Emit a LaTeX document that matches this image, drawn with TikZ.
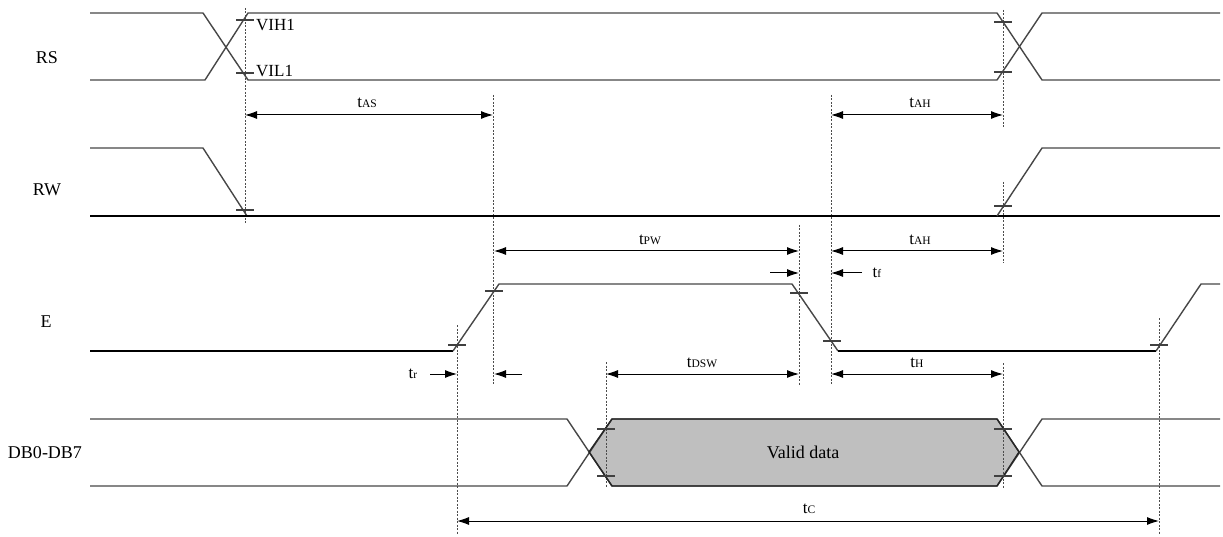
\documentclass[tikz,border=0pt]{standalone}
\usepackage{fontspec}
\setmainfont{Liberation Serif}
\usetikzlibrary{arrows.meta}
\newcommand\tsub[1]{t{\fontsize{11.5}{12}\selectfont #1}}
\begin{document}
\begin{tikzpicture}[x=1pt,y=-1pt,
  sig/.style={draw=black!72,line width=1.4pt,line join=round},
  sigk/.style={draw=black,line width=1.1pt},
  guide/.style={draw=black!70,line width=0.9pt,dash pattern=on 2pt off 1.5pt},
  tickm/.style={draw=black!75,line width=1.2pt},
  dimln/.style={draw=black,line width=1pt,{Latex[length=12pt,width=8pt]}-{Latex[length=12pt,width=8pt]}},
  onearr/.style={draw=black,line width=1pt,-{Latex[length=12pt,width=8pt]}},
  lbl/.style={font=\fontsize{18}{20}\selectfont,inner sep=0pt},
  tl/.style={font=\fontsize{17}{19}\selectfont,inner sep=0pt},
  valid/.style={fill=black!25,draw=none}]
\useasboundingbox (0,0) rectangle (1223,537);

% signal names
\node[lbl] (nRS) at (47,58) {RS};
\node[lbl] (nRW) at (47,190) {RW};
\node[lbl] (nE) at (46,322) {E};
\node[lbl] (nDB) at (45,453) {DB0-DB7};

% valid data fill
\path[valid] (589,452) -- (612,419) -- (997,419) -- (1019,452) -- (997,486) -- (612,486) -- cycle;
\node[lbl] (nVD) at (803,452) {Valid data};

% guides
\draw[guide] (245,8) -- (245,223);
\draw[guide] (493,95) -- (493,385);
\draw[guide] (799,225) -- (799,385);
\draw[guide] (831,95) -- (831,385);
\draw[guide] (1003,10) -- (1003,127);
\draw[guide] (1003,182) -- (1003,263);
\draw[guide] (1003,363) -- (1003,488);
\draw[guide] (457,325) -- (457,535);
\draw[guide] (606,362) -- (606,488);
\draw[guide] (1159,318) -- (1159,535);

% RS
\draw[sig] (90,13) -- (203,13) -- (248,80) -- (997,80) -- (1042,13) -- (1220,13);
\draw[sig] (90,80) -- (205,80) -- (248,13) -- (997,13) -- (1042,80) -- (1220,80);
% RW
\draw[sig] (90,148) -- (203,148) -- (247,216);
\draw[sigk] (90,216) -- (1220,216);
\draw[sig] (997,216) -- (1042,148) -- (1220,148);
% E
\draw[sigk] (90,351) -- (453,351);
\draw[sig] (453,351) -- (499,284) -- (792,284) -- (838,351);
\draw[sigk] (838,351) -- (1156,351);
\draw[sig] (1156,351) -- (1201,284) -- (1220,284);
% DB
\draw[sig] (90,419) -- (567,419) -- (612,486) -- (997,486) -- (1042,419) -- (1220,419);
\draw[sig] (90,486) -- (567,486) -- (612,419) -- (997,419) -- (1042,486) -- (1220,486);
\draw[draw=black!85,line width=1.4pt,line join=round] (589,452) -- (612,419) -- (997,419) -- (1019,452) -- (997,486) -- (612,486) -- cycle;

% ticks
\foreach \x/\y in {245/20,245/73,1003/22,1003/72,245/210,1003/206,
  457/345,494/291,799/293,832/341,1159/345,606/429,606/476,1003/429,1003/476}
  \draw[tickm] (\x-9,\y) -- (\x+9,\y);

% level labels
\node[tl,anchor=west] (vih) at (256,25) {VIH1};
\node[tl,anchor=west] (vil) at (256,71) {VIL1};

% timing coordinates
\coordinate (asL) at (245,115); \coordinate (asR) at (493,115);
\coordinate (ah1L) at (831,115); \coordinate (ah1R) at (1003,115);
\coordinate (pwL) at (494,251); \coordinate (pwR) at (799,251);
\coordinate (ah2L) at (831,251); \coordinate (ah2R) at (1003,251);
\coordinate (tfa0) at (770,273); \coordinate (tfa1) at (799,273);
\coordinate (tfb0) at (862,273); \coordinate (tfb1) at (831,273);
\coordinate (tra0) at (430,374); \coordinate (tra1) at (457,374);
\coordinate (trb0) at (522,374); \coordinate (trb1) at (494,374);
\coordinate (dswL) at (606,374); \coordinate (dswR) at (799,374);
\coordinate (hL) at (831,374); \coordinate (hR) at (1003,374);
\coordinate (cL) at (457,521); \coordinate (cR) at (1159,521);

\draw[dimln] (asL) -- (asR);
\draw[dimln] (ah1L) -- (ah1R);
\draw[dimln] (pwL) -- (pwR);
\draw[dimln] (ah2L) -- (ah2R);
\draw[onearr] (tfa0) -- (tfa1);
\draw[onearr] (tfb0) -- (tfb1);
\draw[onearr] (tra0) -- (tra1);
\draw[onearr] (trb0) -- (trb1);
\draw[dimln] (dswL) -- (dswR);
\draw[dimln] (hL) -- (hR);
\draw[dimln] (cL) -- (cR);

% timing labels
\node[tl] (lAS) at (367,103) {\tsub{AS}};
\node[tl] (lAH1) at (920,103) {\tsub{AH}};
\node[tl] (lPW) at (650,240) {\tsub{PW}};
\node[tl] (lAH2) at (920,240) {\tsub{AH}};
\node[tl] (lf) at (877,273) {\tsub{f}};
\node[tl] (lr) at (413,374) {\tsub{r}};
\node[tl] (lDSW) at (702,363) {\tsub{DSW}};
\node[tl] (lH) at (917,363) {\tsub{H}};
\node[tl] (lC) at (809,509) {\tsub{C}};
\end{tikzpicture}
\end{document}
